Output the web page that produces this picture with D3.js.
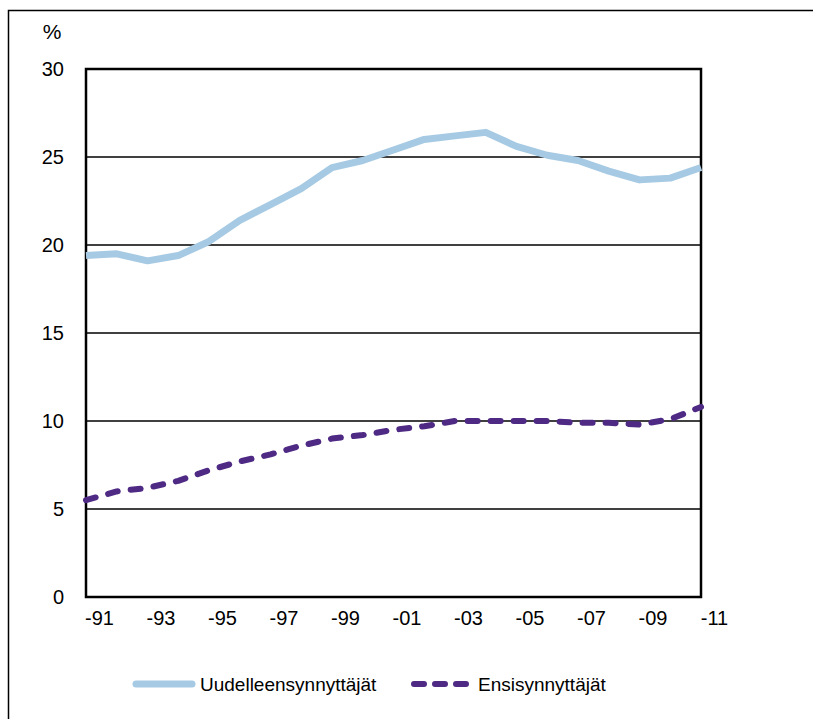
<!DOCTYPE html>
<html>
<head>
<meta charset="utf-8">
<script src="https://cdn.jsdelivr.net/npm/d3@7"></script>
<style>
  html, body { margin: 0; padding: 0; background: #fff; }
  svg { display: block; font-family: "Liberation Sans", Arial, sans-serif; }
</style>
</head>
<body>
<svg id="chart" width="813" height="719"></svg>
<script>
// Share of births (%) by year, 1991–2011
const years = d3.range(1991, 2012);
const uudelleen = [19.4, 19.5, 19.1, 19.4, 20.2, 21.4, 22.3, 23.2, 24.4, 24.8, 25.4, 26.0, 26.2, 26.4, 25.6, 25.1, 24.8, 24.2, 23.7, 23.8, 24.4];
const ensi      = [5.5, 6.0, 6.2, 6.6, 7.2, 7.7, 8.1, 8.6, 9.0, 9.2, 9.5, 9.7, 10.0, 10.0, 10.0, 10.0, 9.9, 9.9, 9.8, 10.1, 10.8];
const yTicks = [0, 5, 10, 15, 20, 25, 30];
const xTickYears = [1991, 1993, 1995, 1997, 1999, 2001, 2003, 2005, 2007, 2009, 2011];
const seriesNames = ["Uudelleensynnyttäjät", "Ensisynnyttäjät"];
const seriesColors = ["#a6cae3", "#4f2a84"];

const svg = d3.select("#chart");
const plotLeft = 86, plotRight = 701, plotTop = 69, plotBottom = 597;

// outer frame
svg.append("rect")
  .attr("x", 8.5).attr("y", 10.5)
  .attr("width", 900).attr("height", 800)
  .attr("fill", "none").attr("stroke", "#000").attr("stroke-width", 1.5);

const x = d3.scalePoint().domain(years).range([plotLeft, plotRight]);
const y = d3.scaleLinear().domain([0, 30]).range([plotBottom, plotTop]);

// horizontal gridlines
svg.append("g").selectAll("line")
  .data(yTicks.filter(d => d > 0 && d < 30))
  .join("line")
  .attr("x1", plotLeft).attr("x2", plotRight)
  .attr("y1", d => y(d)).attr("y2", d => y(d))
  .attr("stroke", "#000").attr("stroke-width", 1.5);

// plot frame
svg.append("rect")
  .attr("x", plotLeft).attr("y", plotTop)
  .attr("width", plotRight - plotLeft).attr("height", plotBottom - plotTop)
  .attr("fill", "none").attr("stroke", "#000").attr("stroke-width", 2.5);

// y axis labels
const yAxis = d3.axisLeft(y).tickValues(yTicks).tickSize(0).tickPadding(22);
const gy = svg.append("g").attr("transform", `translate(${plotLeft},0)`).call(yAxis);
gy.select(".domain").remove();
gy.selectAll("text").attr("font-size", 20).attr("fill", "#000")
  .attr("font-family", "Liberation Sans, Arial, sans-serif");

svg.append("text")
  .attr("x", 52).attr("y", 39)
  .attr("text-anchor", "middle")
  .attr("font-size", 21).attr("fill", "#000")
  .text("%");

// x axis labels
const xAxis = d3.axisBottom(x).tickValues(xTickYears).tickSize(0).tickPadding(14)
  .tickFormat(d => "-" + String(d).slice(2));
const gx = svg.append("g").attr("transform", `translate(0,${plotBottom})`).call(xAxis);
gx.select(".domain").remove();
gx.selectAll("text").attr("font-size", 20).attr("fill", "#000")
  .attr("font-family", "Liberation Sans, Arial, sans-serif")
  .attr("dx", 13);

const line = d3.line().x((d, i) => x(years[i])).y(d => y(d));

svg.append("path")
  .datum(uudelleen)
  .attr("d", line)
  .attr("fill", "none")
  .attr("stroke", seriesColors[0]).attr("stroke-width", 7)
  .attr("stroke-linejoin", "round");

svg.append("path")
  .datum(ensi)
  .attr("d", line)
  .attr("fill", "none")
  .attr("stroke", seriesColors[1]).attr("stroke-width", 6)
  .attr("stroke-linejoin", "round").attr("stroke-linecap", "round")
  .attr("stroke-dasharray", "10,13");

// legend
const legY = 684;
const leg = svg.append("g");
leg.append("line")
  .attr("x1", 136).attr("x2", 192).attr("y1", legY).attr("y2", legY)
  .attr("stroke", seriesColors[0]).attr("stroke-width", 7).attr("stroke-linecap", "round");
leg.append("text")
  .attr("x", 200).attr("y", legY + 7)
  .attr("font-size", 19).attr("fill", "#000")
  .text(seriesNames[0]);
leg.append("line")
  .attr("x1", 414).attr("x2", 466).attr("y1", legY).attr("y2", legY)
  .attr("stroke", seriesColors[1]).attr("stroke-width", 6).attr("stroke-linecap", "round")
  .attr("stroke-dasharray", "10,11");
leg.append("text")
  .attr("x", 478).attr("y", legY + 7)
  .attr("font-size", 19).attr("fill", "#000")
  .text(seriesNames[1]);
</script>
</body>
</html>
